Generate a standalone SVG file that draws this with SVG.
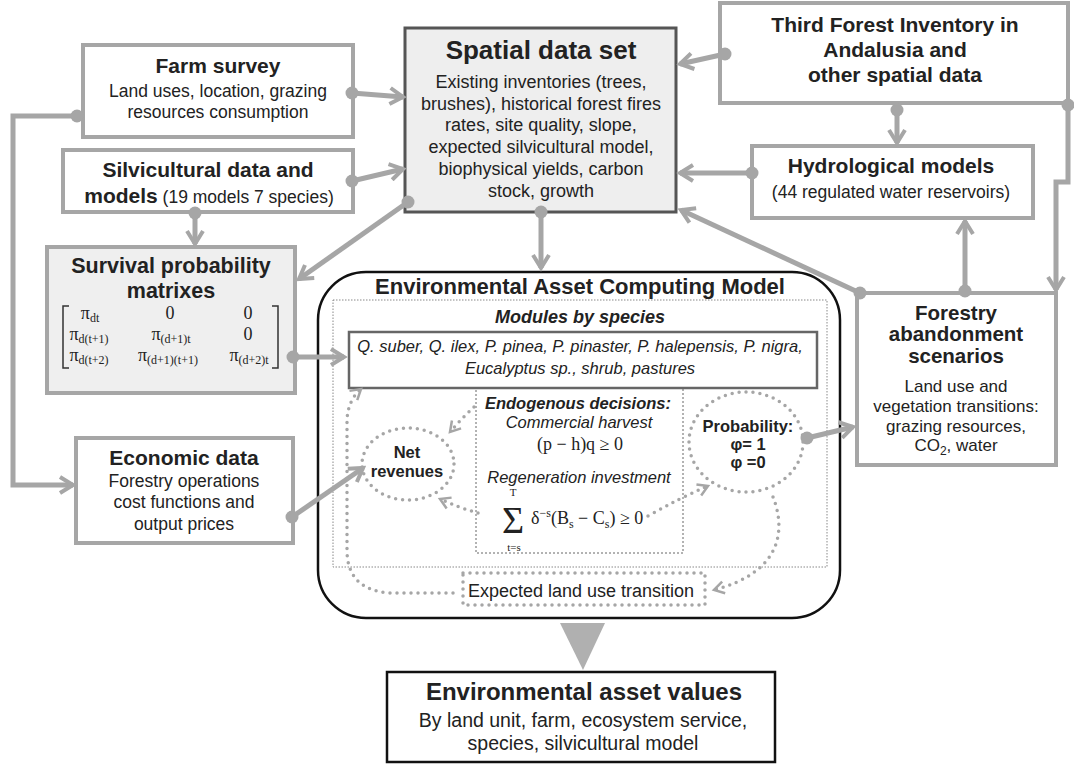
<svg xmlns="http://www.w3.org/2000/svg" width="1074" height="765" viewBox="0 0 1074 765">
<style>
.box{fill:#fff;stroke:#a6a6a6;stroke-width:4}
.t{font-family:"Liberation Sans",Arial,sans-serif;fill:#222;text-anchor:middle}
.h{font-size:21px;font-weight:bold}
.r{font-size:17.5px}
.bi{font-weight:bold;font-style:italic}
.i{font-style:italic}
.m{font-family:"Liberation Serif","DejaVu Serif",serif;fill:#222}
.conn{fill:none;stroke:#a6a6a6;stroke-width:5}
.dots{fill:none;stroke:#a6a6a6;stroke-width:3.5;stroke-dasharray:0 7;stroke-linecap:round}
</style>
<defs>
<marker id="arr" markerUnits="userSpaceOnUse" viewBox="0 0 20 20" markerWidth="20" markerHeight="20" refX="16" refY="10" orient="auto"><path d="M3,2 L16,10 L3,18" fill="none" stroke="#a6a6a6" stroke-width="4"/></marker>
<marker id="dot" markerUnits="userSpaceOnUse" viewBox="0 0 14 14" markerWidth="14" markerHeight="14" refX="7" refY="7"><circle cx="7" cy="7" r="6.5" fill="#a6a6a6"/></marker>
<marker id="oarr" markerUnits="userSpaceOnUse" viewBox="0 0 16 16" markerWidth="16" markerHeight="16" refX="13" refY="8" orient="auto"><path d="M3,2 L13,8 L3,14" fill="none" stroke="#a6a6a6" stroke-width="2.5"/></marker>
</defs>
<rect width="1074" height="765" fill="#fff"/>

<g id="env-model">
<rect x="318" y="272" width="522" height="346" rx="48" fill="#fff" stroke="#111" stroke-width="2.5"/>
<rect x="333" y="300" width="494" height="267" fill="none" stroke="#888" stroke-width="1" stroke-dasharray="1.5 1.5"/>
<text class="t" x="580" y="294" style="font-size:22px;font-weight:bold">Environmental Asset Computing Model</text>
<text class="t bi" x="580" y="323" style="font-size:18px">Modules by species</text>
</g>

<g id="modules">
<rect x="349" y="332" width="468" height="56" fill="#fff" stroke="#666" stroke-width="2.5"/>
<text class="t i" x="580" y="352" style="font-size:16.5px">Q. suber, Q. ilex, P. pinea, P. pinaster, P. halepensis, P. nigra,</text>
<text class="t i" x="580" y="374" style="font-size:16.5px">Eucalyptus sp., shrub, pastures</text>
</g>

<g id="endogenous">
<rect x="476" y="388" width="207" height="165" fill="none" stroke="#666" stroke-width="1" stroke-dasharray="2 2"/>
<text class="t bi" x="578" y="409" style="font-size:16.5px">Endogenous decisions:</text>
<text class="t i" x="579" y="428" style="font-size:16.5px">Commercial harvest</text>
<text class="m" x="580" y="450" text-anchor="middle" style="font-size:18px">(p − h)q ≥ 0</text>
<text class="t i" x="579" y="483" style="font-size:16.5px">Regeneration investment</text>
<text class="m" x="513" y="496" text-anchor="middle" style="font-size:11px">T</text>
<text class="m" x="513" y="533" text-anchor="middle" style="font-size:38px">Σ</text>
<text class="m" x="514" y="551" text-anchor="middle" style="font-size:11px">t=s</text>
<text class="m" x="531" y="524" style="font-size:18px">δ<tspan dy="-7" style="font-size:12px">−s</tspan><tspan dy="7">(B</tspan><tspan dy="4" style="font-size:12px">s</tspan><tspan dy="-4"> − C</tspan><tspan dy="4" style="font-size:12px">s</tspan><tspan dy="-4">) ≥ 0</tspan></text>
</g>

<g id="net-revenues">
<ellipse cx="408" cy="464" rx="46" ry="36" class="dots"/>
<text class="t" x="407" y="458" style="font-size:16.5px;font-weight:bold">Net</text>
<text class="t" x="407" y="477" style="font-size:16.5px;font-weight:bold">revenues</text>
</g>

<g id="probability">
<ellipse cx="746" cy="442" rx="57" ry="50" class="dots"/>
<text class="t" x="748" y="432" style="font-size:16.5px;font-weight:bold">Probability:</text>
<text class="t" x="748" y="450" style="font-size:16.5px;font-weight:bold">φ= 1</text>
<text class="t" x="748" y="468" style="font-size:16.5px;font-weight:bold">φ =0</text>
</g>

<g id="land-use-transition">
<rect x="463" y="573" width="242" height="32" class="dots"/>
<text class="t" x="581" y="597" style="font-size:18px">Expected land use transition</text>
</g>

<g id="farm-survey">
<rect x="83" y="45" width="270" height="92" class="box"/>
<text class="t h" x="218" y="73">Farm survey</text>
<text class="t r" x="218" y="97">Land uses, location, grazing</text>
<text class="t r" x="218" y="118">resources consumption</text>
</g>

<g id="silvicultural">
<rect x="63" y="150" width="290" height="62" class="box"/>
<text class="t h" x="208" y="177">Silvicultural data and</text>
<text class="t" x="209" y="203"><tspan style="font-size:21px;font-weight:bold">models</tspan><tspan style="font-size:17.5px"> (19 models 7 species)</tspan></text>
</g>

<g id="spatial">
<rect x="405" y="28" width="271" height="184" fill="#eeeeee" stroke="#555" stroke-width="3"/>
<text class="t" x="541" y="59" style="font-size:26px;font-weight:bold">Spatial data set</text>
<text class="t" x="541" y="88" style="font-size:18px">Existing inventories (trees,</text>
<text class="t" x="541" y="110" style="font-size:18px">brushes), historical forest fires</text>
<text class="t" x="541" y="131" style="font-size:18px">rates, site quality, slope,</text>
<text class="t" x="541" y="153" style="font-size:18px">expected silvicultural model,</text>
<text class="t" x="541" y="175" style="font-size:18px">biophysical yields, carbon</text>
<text class="t" x="541" y="197" style="font-size:18px">stock, growth</text>
</g>

<g id="third-forest">
<rect x="720" y="3" width="348" height="100" class="box"/>
<text class="t h" x="895" y="32">Third Forest Inventory in</text>
<text class="t h" x="895" y="57">Andalusia and</text>
<text class="t h" x="895" y="82">other spatial data</text>
</g>

<g id="hydrological">
<rect x="752" y="146" width="281" height="72" class="box"/>
<text class="t h" x="891" y="173">Hydrological models</text>
<text class="t r" x="891" y="198">(44 regulated water reservoirs)</text>
</g>

<g id="survival">
<rect x="47" y="247" width="248" height="146" fill="#efefef" stroke="#a6a6a6" stroke-width="4"/>
<text class="t" x="171" y="273" style="font-size:21.5px;font-weight:bold">Survival probability</text>
<text class="t" x="171" y="298" style="font-size:21.5px;font-weight:bold">matrixes</text>
<path d="M69,306 L63,306 L63,368 L69,368 M272,306 L278,306 L278,368 L272,368" fill="none" stroke="#333" stroke-width="1.5"/>
<g class="m" style="font-size:18px" text-anchor="middle">
<text x="90" y="319">π<tspan dy="3" style="font-size:12px">dt</tspan></text>
<text x="170" y="319">0</text>
<text x="248" y="319">0</text>
<text x="89" y="340">π<tspan dy="3" style="font-size:12px">d(t+1)</tspan></text>
<text x="171" y="340">π<tspan dy="3" style="font-size:12px">(d+1)t</tspan></text>
<text x="248" y="340">0</text>
<text x="89" y="361">π<tspan dy="3" style="font-size:12px">d(t+2)</tspan></text>
<text x="168" y="361">π<tspan dy="3" style="font-size:12px">(d+1)(t+1)</tspan></text>
<text x="249" y="361">π<tspan dy="3" style="font-size:12px">(d+2)t</tspan></text>
</g>
</g>

<g id="economic">
<rect x="76" y="438" width="217" height="105" class="box"/>
<text class="t h" x="184" y="465">Economic data</text>
<text class="t r" x="184" y="487">Forestry operations</text>
<text class="t r" x="184" y="508">cost functions and</text>
<text class="t r" x="184" y="530">output prices</text>
</g>

<g id="forestry">
<rect x="857" y="293" width="199" height="172" class="box"/>
<text class="t" x="956" y="320" style="font-size:20.5px;font-weight:bold">Forestry</text>
<text class="t" x="956" y="341" style="font-size:20.5px;font-weight:bold">abandonment</text>
<text class="t" x="956" y="363" style="font-size:20.5px;font-weight:bold">scenarios</text>
<text class="t" x="956" y="392" style="font-size:17px">Land use and</text>
<text class="t" x="956" y="412" style="font-size:17px">vegetation transitions:</text>
<text class="t" x="956" y="432" style="font-size:17px">grazing resources,</text>
<text class="t" x="956" y="451" style="font-size:17px">CO<tspan dy="4" style="font-size:12px">2</tspan><tspan dy="-4">, water</tspan></text>
</g>

<g id="asset-values">
<rect x="387" y="672" width="388" height="90" fill="#fff" stroke="#111" stroke-width="2.5"/>
<text class="t" x="584" y="700" style="font-size:24px;font-weight:bold">Environmental asset values</text>
<text class="t" x="583" y="727" style="font-size:19.5px">By land unit, farm, ecosystem service,</text>
<text class="t" x="583" y="750" style="font-size:19.5px">species, silvicultural model</text>
</g>

<g id="connectors">
<path class="conn" d="M77,116 L13,116 L13,485 L73,485" marker-start="url(#dot)" marker-end="url(#arr)"/>
<path class="conn" d="M352,93 L403,97" marker-start="url(#dot)" marker-end="url(#arr)"/>
<path class="conn" d="M352,181 L403,169" marker-start="url(#dot)" marker-end="url(#arr)"/>
<path class="conn" d="M195,213 L195,244" marker-start="url(#dot)" marker-end="url(#arr)"/>
<path class="conn" d="M408,202 L299,279" marker-start="url(#dot)" marker-end="url(#arr)"/>
<path class="conn" d="M541,212 L541,268" marker-start="url(#dot)" marker-end="url(#arr)"/>
<path class="conn" d="M725,54 L680,64" marker-start="url(#dot)" marker-end="url(#arr)"/>
<path class="conn" d="M752,173 L680,173" marker-start="url(#dot)" marker-end="url(#arr)"/>
<path class="conn" d="M860,293 L681,210" marker-start="url(#dot)" marker-end="url(#arr)"/>
<path class="conn" d="M897,110 L897,143" marker-start="url(#dot)" marker-end="url(#arr)"/>
<path class="conn" d="M1068,105 L1068,182 L1056,182 L1056,290" marker-start="url(#dot)" marker-end="url(#arr)"/>
<path class="conn" d="M965,291 L965,221" marker-start="url(#dot)" marker-end="url(#arr)"/>
<path class="conn" d="M293,357 L344,357" marker-start="url(#dot)" marker-end="url(#arr)"/>
<path class="conn" d="M292,517 L363,468" marker-start="url(#dot)" marker-end="url(#arr)"/>
<path class="conn" d="M807,438 L853,427" marker-start="url(#dot)" marker-end="url(#arr)"/>
<path class="dots" d="M474,407 Q462,418 450,432" marker-end="url(#oarr)"/>
<path class="dots" d="M478,513 Q460,508 440,499" marker-end="url(#oarr)"/>
<path class="dots" d="M648,516 Q680,498 708,486" marker-end="url(#oarr)"/>
<path class="dots" d="M773,497 C786,530 782,572 714,590" marker-end="url(#oarr)"/>
<path class="dots" d="M453,593 L390,593 Q347,590 347,550 L347,420 Q348,400 361,389" marker-end="url(#oarr)"/>
<polygon points="560,623 605,623 583,670" fill="#b0b0b0"/>
</g>
</svg>
